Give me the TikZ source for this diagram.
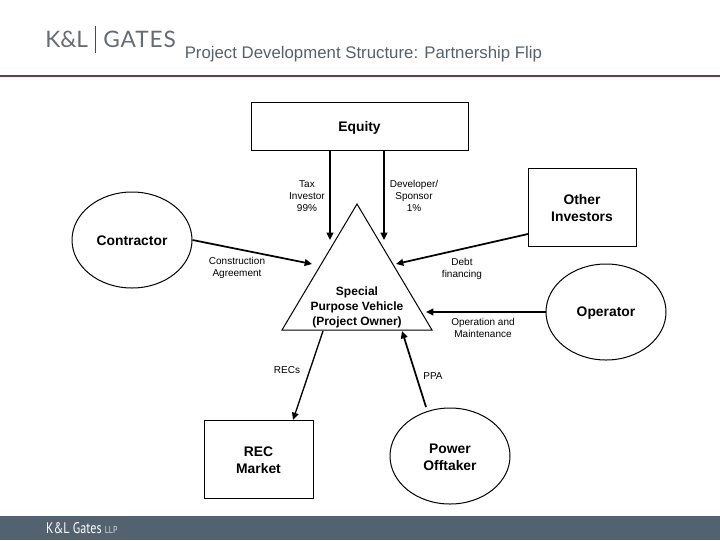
\documentclass[tikz,border=0pt]{standalone}
\usepackage{fontspec}
\setmainfont{Liberation Sans}
\newfontfamily\logofont[LetterSpace=4]{Lato}
\newfontfamily\logofontb{Lato}
\newfontfamily\footfont{PT Sans}
\usetikzlibrary{arrows.meta,shapes.geometric}
\definecolor{barcol}{HTML}{53626F}
\definecolor{rulecol}{HTML}{6B3A44}
\definecolor{titlecol}{HTML}{56606A}
\definecolor{logocol}{HTML}{666B73}
\tikzset{
  boxnode/.style={draw,line width=0.75pt,inner sep=0pt},
  ovalnode/.style={draw,ellipse,line width=0.75pt,inner sep=0pt,minimum width=90pt,minimum height=72pt},
  boldtext/.style={align=center,inner sep=0pt,font=\fontsize{10.4}{12.8}\selectfont\bfseries},
  lab/.style={align=center,inner sep=0pt,font=\fontsize{7.5}{9}\selectfont},
  flow/.style={-{Triangle[length=5.5pt,width=5pt]},line width=1.3pt},
  thinflow/.style={-{Triangle[length=5.5pt,width=5pt]},line width=1pt}
}
\begin{document}
\begin{tikzpicture}[x=0.75pt,y=-0.75pt]
\useasboundingbox (0,0) rectangle (720,540);
\fill[barcol] (0,516) rectangle (720,540);
\fill[rulecol] (0,75) rectangle (720,77);
\node[anchor=base west,inner sep=0pt,text=logocol,font=\logofontb\fontsize{17}{17}\selectfont] (logoa) at (45,47) {K\&L};
\node[anchor=base west,inner sep=0pt,text=logocol,font=\logofont\fontsize{17}{17}\selectfont] (logob) at (103,47) {GATES};
\coordinate (divtop) at (95,26);
\coordinate (divbot) at (95,53);
\draw[rulecol,line width=0.6pt] (divtop) -- (divbot);
\node[anchor=base west,inner sep=0pt,text=titlecol,font=\fontsize{12.6}{14}\selectfont] (title) at (184.5,58) {Project Development Structure: Partnership Flip};
\node[anchor=base west,inner sep=0pt,text=white,font=\footfont\fontsize{11.5}{11.5}\selectfont,xscale=0.79,transform shape] (foot) at (46,533) {K\&L Gates \textcolor{white!75!barcol}{\fontsize{7.5}{8}\selectfont LLP}};

\node[boxnode,minimum width=162.75pt,minimum height=36pt] (equity) at (359.5,126) {};
\node[boxnode,minimum width=81pt,minimum height=58.5pt] (other) at (582,207) {};
\node[boxnode,minimum width=81.75pt,minimum height=58.5pt] (rec) at (258.5,459) {};
\node[ovalnode] (contractor) at (132,240) {};
\node[ovalnode] (operator) at (606,312) {};
\node[ovalnode] (power) at (450,456) {};

\node[boldtext] (equitytext) at (359.5,127.5) {Equity};
\node[boldtext] (othertext) at (582,208) {Other\\Investors};
\node[boldtext] (rectext) at (258.5,460) {REC\\Market};
\node[boldtext] (contractortext) at (132,241) {Contractor};
\node[boldtext] (operatortext) at (606,313.5) {Operator};
\node[boldtext] (powertext) at (450,457) {Power\\Offtaker};

\coordinate (apex) at (357,204);
\coordinate (tl) at (282,330);
\coordinate (tr) at (432,330);
\draw[line width=0.75pt,line join=miter] (apex) -- (tl) -- (tr) -- cycle;
\node[align=center,inner sep=0pt,font=\fontsize{9}{11}\selectfont\bfseries] (spv) at (357,307.5) {Special\\Purpose Vehicle\\(Project Owner)};

\coordinate (eqL) at (330,150);
\coordinate (eqR) at (384,150);
\coordinate (inL) at (330,240);
\coordinate (inR) at (384,240);
\coordinate (cin) at (312,264);
\coordinate (oout) at (528,234);
\coordinate (oin) at (396,264);
\coordinate (opin) at (426,312);
\coordinate (pout) at (426,407);
\coordinate (pin) at (402,331);
\coordinate (rout) at (323,331);
\coordinate (rin) at (293,420);

\draw[flow] (eqL) -- (inL);
\draw[flow] (eqR) -- (inR);
\draw[flow] (contractor.east) -- (cin);
\draw[flow] (oout) -- (oin);
\draw[flow] (operator.west) -- (opin);
\draw[flow] (pout) -- (pin);
\draw[thinflow] (rout) -- (rin);

\node[lab] (taxlab) at (307,196) {Tax\\Investor\\99\%};
\node[lab] (devlab) at (414,196) {Developer/\\Sponsor\\1\%};
\node[lab] (conlab) at (237,268) {Construction\\Agreement};
\node[lab] (debtlab) at (462,269) {Debt\\financing};
\node[lab] (omlab) at (483,328) {Operation and\\Maintenance};
\node[lab] (reclab) at (287,370) {RECs};
\node[lab] (ppalab) at (433,376) {PPA};
\end{tikzpicture}
\end{document}
